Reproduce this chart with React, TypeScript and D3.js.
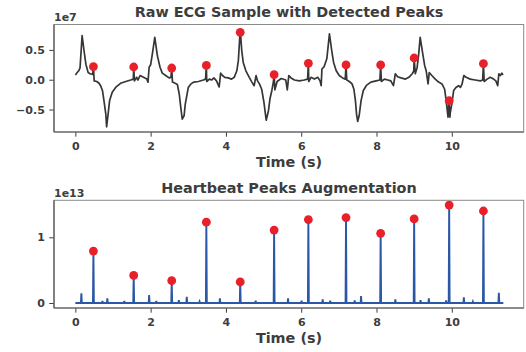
import { useEffect, useRef } from 'react';
import * as d3 from 'd3';

const W = 526;
const H = 352;

const X_TICKS = [0, 2, 4, 6, 8, 10];
const RAW_TICKS = [-0.5, 0, 0.5];
const AUG_TICKS = [0, 1];

// detected peaks: time (s), raw value (x1e7), augmented value (x1e13)
const PEAK_T = [0.48, 1.55, 2.56, 3.48, 4.38, 5.28, 6.19, 7.19, 8.11, 9.0, 9.93, 10.84];
const PEAK_RAW = [0.218, 0.213, 0.196, 0.24, 0.795, 0.084, 0.275, 0.247, 0.247, 0.364, -0.352, 0.268];
const PEAK_AUG = [0.79, 0.42, 0.34, 1.23, 0.32, 1.11, 1.27, 1.3, 1.06, 1.28, 1.49, 1.4];

// raw ECG trace (time s, value x1e7)
const ECG: [number, number][] = [
  [0.0, 0.08], [0.05, 0.12], [0.1, 0.16], [0.125, 0.2], [0.18, 0.74], [0.23, 0.49], [0.28, 0.26],
  [0.34, 0.12], [0.39, 0.1], [0.46, 0.09], [0.48, 0.218], [0.5, -0.02], [0.57, -0.03], [0.63, -0.06],
  [0.67, -0.1], [0.72, -0.18], [0.76, -0.35], [0.81, -0.58], [0.83, -0.79], [0.87, -0.58], [0.91, -0.35],
  [0.98, -0.21], [1.07, -0.13], [1.2, -0.06], [1.34, -0.03], [1.47, -0.005], [1.54, 0.01], [1.55, 0.213],
  [1.57, -0.02], [1.63, 0.04], [1.66, -0.005], [1.72, 0.07], [1.81, 0.04], [1.9, 0.01], [1.93, -0.04],
  [1.96, 0.21], [2.0, 0.25], [2.05, 0.45], [2.11, 0.71], [2.18, 0.4], [2.25, 0.21], [2.31, 0.11],
  [2.4, 0.07], [2.49, 0.03], [2.54, 0.04], [2.56, 0.196], [2.58, -0.04], [2.65, -0.06], [2.71, -0.08],
  [2.76, -0.24], [2.8, -0.46], [2.84, -0.66], [2.89, -0.6], [2.92, -0.41], [2.96, -0.27], [3.0, -0.13],
  [3.07, -0.07], [3.15, -0.04], [3.27, -0.03], [3.4, -0.005], [3.46, 0.01], [3.48, 0.24], [3.49, -0.03],
  [3.56, 0.01], [3.62, -0.005], [3.68, 0.03], [3.75, -0.02], [3.82, -0.12], [3.86, 0.11], [3.91, 0.07],
  [3.97, 0.04], [4.06, 0.03], [4.15, 0.01], [4.22, 0.04], [4.29, 0.15], [4.33, 0.32], [4.38, 0.84],
  [4.42, 0.49], [4.46, 0.29], [4.53, 0.15], [4.62, 0.04], [4.69, -0.04], [4.75, -0.1], [4.8, 0.07],
  [4.84, -0.02], [4.89, -0.07], [4.95, -0.16], [5.01, -0.38], [5.07, -0.68], [5.13, -0.52], [5.17, -0.32],
  [5.22, -0.18], [5.26, -0.04], [5.28, 0.084], [5.3, -0.17], [5.36, -0.03], [5.47, 0.02], [5.59, -0.005],
  [5.63, -0.17], [5.67, 0.07], [5.73, 0.03], [5.82, -0.005], [5.95, -0.02], [6.08, -0.005], [6.17, 0.01],
  [6.19, 0.275], [6.2, -0.03], [6.26, 0.04], [6.35, 0.01], [6.44, 0.04], [6.5, -0.02], [6.53, -0.1],
  [6.55, 0.18], [6.61, 0.22], [6.68, 0.35], [6.75, 0.77], [6.81, 0.49], [6.86, 0.29], [6.93, 0.15],
  [7.01, 0.07], [7.1, 0.03], [7.17, 0.01], [7.19, 0.247], [7.21, -0.005], [7.28, -0.03], [7.35, -0.07],
  [7.4, -0.16], [7.44, -0.35], [7.47, -0.58], [7.5, -0.7], [7.54, -0.6], [7.59, -0.35], [7.65, -0.18],
  [7.74, -0.09], [7.85, -0.04], [7.99, -0.02], [8.09, -0.005], [8.11, 0.247], [8.13, -0.03], [8.21, 0.01],
  [8.3, -0.005], [8.38, -0.02], [8.45, -0.1], [8.5, 0.1], [8.56, 0.05], [8.65, 0.03], [8.77, 0.01],
  [8.86, 0.04], [8.95, 0.1], [8.99, 0.15], [9.0, 0.364], [9.03, 0.1], [9.08, 0.21], [9.12, 0.43],
  [9.16, 0.71], [9.23, 0.43], [9.28, 0.235], [9.32, 0.15], [9.37, -0.07], [9.4, 0.12], [9.47, 0.07],
  [9.56, 0.01], [9.65, -0.04], [9.74, -0.07], [9.81, -0.16], [9.85, -0.35], [9.9, -0.63], [9.92, -0.4],
  [9.93, -0.352], [9.95, -0.63], [9.96, -0.55], [10.0, -0.41], [10.05, -0.18], [10.11, -0.13],
  [10.18, -0.1], [10.23, -0.13], [10.27, -0.08], [10.32, 0.07], [10.38, 0.04], [10.49, 0.01],
  [10.62, -0.005], [10.76, -0.02], [10.82, -0.005], [10.84, 0.268], [10.86, -0.03], [10.94, 0.01],
  [11.02, 0.04], [11.11, 0.01], [11.17, -0.02], [11.22, -0.1], [11.25, 0.1], [11.29, 0.07], [11.33, 0.11],
  [11.36, 0.08],
];

// augmented signal (time s, value x1e13): baseline with spikes
const AUG: [number, number][] = [
  [0.0, 0], [0.148, 0], [0.16, 0.148], [0.172, 0], [0.468, 0], [0.48, 0.79], [0.492, 0],
  [0.708, 0], [0.72, 0.03], [0.732, 0], [0.838, 0], [0.85, 0.07], [0.862, 0], [1.288, 0], [1.3, 0.03],
  [1.312, 0], [1.538, 0], [1.55, 0.42], [1.562, 0], [1.948, 0], [1.96, 0.12], [1.972, 0], [2.138, 0],
  [2.15, 0.03], [2.162, 0], [2.548, 0], [2.56, 0.34], [2.572, 0], [2.738, 0], [2.75, 0.045], [2.762, 0],
  [2.948, 0], [2.96, 0.095], [2.972, 0], [3.288, 0], [3.3, 0.02], [3.312, 0], [3.468, 0], [3.48, 1.23],
  [3.492, 0], [3.828, 0], [3.84, 0.07], [3.852, 0], [4.368, 0], [4.38, 0.32], [4.392, 0], [4.778, 0],
  [4.79, 0.035], [4.802, 0], [5.268, 0], [5.28, 1.11], [5.292, 0], [5.638, 0], [5.65, 0.07], [5.662, 0],
  [5.998, 0], [6.01, 0.035], [6.022, 0], [6.178, 0], [6.19, 1.27], [6.202, 0], [6.558, 0], [6.57, 0.056],
  [6.582, 0], [6.758, 0], [6.77, 0.035], [6.782, 0], [7.178, 0], [7.19, 1.3], [7.202, 0], [7.408, 0],
  [7.42, 0.04], [7.432, 0], [7.578, 0], [7.59, 0.107], [7.602, 0], [8.098, 0], [8.11, 1.06], [8.122, 0],
  [8.488, 0], [8.5, 0.056], [8.512, 0], [8.988, 0], [9.0, 1.28], [9.012, 0], [9.158, 0], [9.17, 0.045],
  [9.182, 0], [9.378, 0], [9.39, 0.07], [9.402, 0], [9.838, 0], [9.85, 0.04], [9.862, 0], [9.918, 0],
  [9.93, 1.49], [9.942, 0], [10.308, 0], [10.32, 0.087], [10.332, 0], [10.548, 0], [10.56, 0.02],
  [10.572, 0], [10.828, 0], [10.84, 1.4], [10.852, 0], [11.238, 0], [11.25, 0.157], [11.262, 0],
  [11.37, 0],
];

const FONT = '"DejaVu Sans", sans-serif';
const TEXT = '#3d3d3d';
const RED = '#e8202a';

export default function App() {
  const ref = useRef<SVGSVGElement>(null);

  useEffect(() => {
    document.body.style.margin = '0';
    const svg = d3.select(ref.current);
    svg.selectAll('*').remove();

    const x = d3.scaleLinear().domain([-0.567, 11.91]).range([54, 523.7]);

    const panel = (top: number, bottom: number, yDomain: [number, number], ticks: number[],
      fmt: (v: number) => string, title: string, expo: string) => {
      const y = d3.scaleLinear().domain(yDomain).range([bottom, top]);
      const g = svg.append('g');

      g.append('g').attr('transform', `translate(0,${bottom})`)
        .call(d3.axisBottom(x).tickValues(X_TICKS).tickFormat(d3.format('d')).tickSize(4.7).tickPadding(5.8))
        .call(s => s.select('.domain').remove())
        .call(s => s.selectAll('line').attr('stroke', TEXT))
        .call(s => s.selectAll('text').attr('fill', TEXT).style('font', `bold 11px ${FONT}`));
      g.append('g').attr('transform', 'translate(54,0)')
        .call(d3.axisLeft(y).tickValues(ticks).tickFormat(fmt as any).tickSize(4.7).tickPadding(4.5))
        .call(s => s.select('.domain').remove())
        .call(s => s.selectAll('line').attr('stroke', TEXT))
        .call(s => s.selectAll('text').attr('fill', TEXT).style('font', `bold 11px ${FONT}`));

      g.append('rect').attr('x', 54).attr('y', top).attr('width', 523.7 - 54).attr('height', bottom - top)
        .attr('fill', 'none').attr('stroke', '#8a8a8a').attr('stroke-width', 1);
      g.append('line').attr('x1', 54).attr('x2', 54).attr('y1', top).attr('y2', bottom)
        .attr('stroke', '#555').attr('stroke-width', 1.2);
      g.append('line').attr('x1', 54).attr('x2', 523.7).attr('y1', bottom).attr('y2', bottom)
        .attr('stroke', '#555').attr('stroke-width', 1.2);

      g.append('text').attr('x', 289).attr('y', top - 7.3).attr('text-anchor', 'middle')
        .attr('fill', TEXT).style('font', `bold 14.4px ${FONT}`).text(title);
      g.append('text').attr('x', 54).attr('y', top - 3.5)
        .attr('fill', TEXT).style('font', `bold 11px ${FONT}`).text(expo);
      g.append('text').attr('x', 289).attr('y', bottom + 35).attr('text-anchor', 'middle')
        .attr('fill', TEXT).style('font', `bold 14.4px ${FONT}`).text('Time (s)');
      return { g, y };
    };

    const top = panel(24.5, 132, [-0.877, 0.926], RAW_TICKS, d3.format('.1f'),
      'Raw ECG Sample with Detected Peaks', '1e7');
    top.g.append('path').datum(ECG).attr('fill', 'none').attr('stroke', '#363636').attr('stroke-width', 1.7)
      .attr('stroke-linejoin', 'round')
      .attr('d', d3.line<[number, number]>().x(d => x(d[0])).y(d => top.y(d[1])));
    top.g.selectAll('circle.p').data(PEAK_T).join('circle')
      .attr('cx', d => x(d)).attr('cy', (_, i) => top.y(PEAK_RAW[i])).attr('r', 4.4).attr('fill', RED);

    const bot = panel(200.3, 308, [-0.076, 1.563], AUG_TICKS, d3.format('d'),
      'Heartbeat Peaks Augmentation', '1e13');
    bot.g.append('path').datum(AUG).attr('fill', 'none').attr('stroke', '#2b57a7').attr('stroke-width', 1.9)
      .attr('d', d3.line<[number, number]>().x(d => x(d[0])).y(d => bot.y(d[1])));
    bot.g.selectAll('circle.p').data(PEAK_T).join('circle')
      .attr('cx', d => x(d)).attr('cy', (_, i) => bot.y(PEAK_AUG[i])).attr('r', 4.4).attr('fill', RED);
  }, []);

  return <svg ref={ref} width={W} height={H} style={{ display: 'block', background: '#fff' }} />;
}
